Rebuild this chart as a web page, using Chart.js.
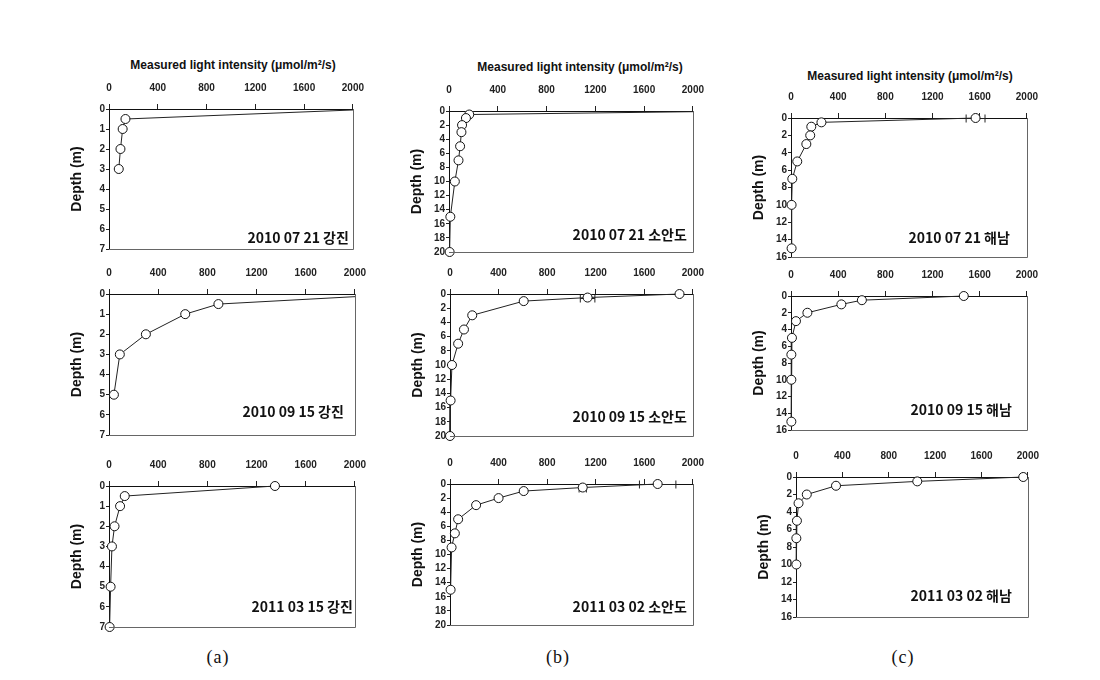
<!DOCTYPE html>
<html>
<head>
<meta charset="utf-8">
<script src="https://cdn.jsdelivr.net/npm/chart.js@4.4.0/dist/chart.umd.min.js"></script>
<style>
  body { margin: 0; background: #fff; width: 1100px; height: 680px; position: relative; overflow: hidden; }
  canvas { position: absolute; }
  .title { position: absolute; font: bold 12px "Liberation Sans", Arial, sans-serif; color: #111; transform: translate(-50%, -50%); white-space: nowrap; }
  .tag { position: absolute; font: 18px "Liberation Serif", serif; color: #111; transform: translate(-50%, -50%); letter-spacing: 1px; }
</style>
</head>
<body>
<div class="title" style="left:233px; top:65px">Measured light intensity (μmol/m²/s)</div>
<div class="title" style="left:580px; top:67px">Measured light intensity (μmol/m²/s)</div>
<div class="title" style="left:910px; top:76px">Measured light intensity (μmol/m²/s)</div>
<div class="tag" style="left:218px; top:657px">(a)</div>
<div class="tag" style="left:558px; top:657px">(b)</div>
<div class="tag" style="left:903px; top:657px">(c)</div>
<script>
// depth (m) vs measured light (umol/m2/s), one pair of arrays per panel
// surface values above 2000 run off the axis, as in the original
const depthA1 = [0, 0.5, 1, 2, 3];
const lightA1 = [2200, 135, 112, 94, 80];
const depthA2 = [0, 0.5, 1, 2, 3, 5];
const lightA2 = [2400, 890, 620, 300, 88, 40];
const depthA3 = [0, 0.5, 1, 2, 3, 5, 7];
const lightA3 = [1350, 128, 90, 45, 24, 13, 5];

const depthB1 = [0, 0.5, 1, 2, 3, 5, 7, 10, 15, 20];
const lightB1 = [2450, 166, 139, 107, 102, 91, 78, 48, 11, 5];
const depthB2 = [0, 0.5, 1, 3, 5, 7, 10, 15, 20];
const lightB2 = [1890, 1133, 607, 183, 115, 67, 16, 5, 0];
const errB2 = [0, 60, 0, 0, 0, 0, 0, 0, 0];
const depthB3 = [0, 0.5, 1, 2, 3, 5, 7, 9, 15];
const lightB3 = [1710, 1093, 607, 400, 215, 67, 40, 13, 5];
const errB3 = [150, 30, 0, 0, 0, 0, 0, 0, 0];

const depthC1 = [0, 0.5, 1, 2, 3, 5, 7, 10, 15];
const lightC1 = [1565, 258, 172, 163, 130, 53, 11, 5, 5];
const errC1 = [80, 0, 0, 0, 0, 0, 0, 0, 0];
const depthC2 = [0, 0.5, 1, 2, 3, 5, 7, 10, 15];
const lightC2 = [1465, 601, 427, 139, 42, 8, 3, 3, 3];
const depthC3 = [0, 0.5, 1, 2, 3, 5, 7, 10];
const lightC3 = [1960, 1046, 345, 93, 22, 8, 3, 3];

const labels = ['2010 07 21 강진', '2010 09 15 강진', '2011 03 15 강진',
                '2010 07 21 소안도', '2010 09 15 소안도', '2011 03 02 소안도',
                '2010 07 21 해남', '2010 09 15 해남', '2011 03 02 해남'];
const xMax = 2000, xStep = 400;

// plot-area boxes (px) and label offsets
const panels = [
  { L: 109, R: 358, T: 109, B: 249, d: depthA1, v: lightA1, e: null, ymax: 7, ystep: 1, dx: 4, dy: 11 },
  { L: 109, R: 360, T: 294, B: 435, d: depthA2, v: lightA2, e: null, ymax: 7, ystep: 1, dx: 11, dy: 23 },
  { L: 109, R: 360, T: 486, B: 627, d: depthA3, v: lightA3, e: null, ymax: 7, ystep: 1, dx: 2, dy: 20 },
  { L: 449, R: 698, T: 111, B: 252, d: depthB1, v: lightB1, e: null, ymax: 20, ystep: 2, dx: 6, dy: 17 },
  { L: 450, R: 698, T: 294, B: 436, d: depthB2, v: lightB2, e: errB2, ymax: 20, ystep: 2, dx: 6, dy: 19 },
  { L: 450, R: 698, T: 484, B: 625, d: depthB3, v: lightB3, e: errB3, ymax: 20, ystep: 2, dx: 6, dy: 18 },
  { L: 791, R: 1032, T: 118, B: 257, d: depthC1, v: lightC1, e: errC1, ymax: 16, ystep: 2, dx: 17, dy: 19 },
  { L: 791, R: 1032, T: 296, B: 430, d: depthC2, v: lightC2, e: null, ymax: 16, ystep: 2, dx: 15, dy: 20 },
  { L: 796, R: 1033, T: 477, B: 617, d: depthC3, v: lightC3, e: null, ymax: 16, ystep: 2, dx: 16, dy: 21 }
];

const AXIS_W = 52, AXIS_H = 30, PAD_R = 16, PAD_B = 8;

const extras = {
  id: 'extras',
  beforeDatasetsDraw(chart, args, opts) {
    if (!opts.err) return;
    const { ctx, scales: { x, y } } = chart;
    const ds = chart.data.datasets[0].data;
    ctx.save();
    ctx.strokeStyle = '#222';
    ctx.lineWidth = 1;
    ds.forEach((p, i) => {
      const e = opts.err[i];
      if (!e) return;
      const py = Math.round(y.getPixelForValue(p.y)) + 0.5;
      const x0 = x.getPixelForValue(p.x - e), x1 = x.getPixelForValue(p.x + e);
      ctx.beginPath();
      ctx.moveTo(x0, py); ctx.lineTo(x1, py);
      ctx.moveTo(x0, py - 4); ctx.lineTo(x0, py + 4);
      ctx.moveTo(x1, py - 4); ctx.lineTo(x1, py + 4);
      ctx.stroke();
    });
    ctx.restore();
  },
  afterDraw(chart, args, opts) {
    const { ctx, chartArea: a } = chart;
    ctx.save();
    ctx.strokeStyle = '#666';
    ctx.lineWidth = 1;
    ctx.beginPath();
    ctx.moveTo(Math.round(a.right) + 0.5, a.top);
    ctx.lineTo(Math.round(a.right) + 0.5, Math.round(a.bottom) + 0.5);
    ctx.lineTo(a.left, Math.round(a.bottom) + 0.5);
    ctx.stroke();
    ctx.font = 'bold 14px "Noto Sans CJK KR", sans-serif';
    ctx.fillStyle = '#111';
    ctx.textAlign = 'right';
    ctx.textBaseline = 'middle';
    ctx.fillText(opts.text, a.right - opts.dx, a.bottom - opts.dy);
    ctx.restore();
  }
};

const tickFont = { family: '"Liberation Sans", Arial, sans-serif', size: 10, weight: 'bold' };

panels.forEach((p, k) => {
  const cv = document.createElement('canvas');
  const w = p.R - p.L + AXIS_W + PAD_R;
  const h = p.B - p.T + AXIS_H + PAD_B;
  cv.width = w; cv.height = h;
  cv.style.left = (p.L - AXIS_W) + 'px';
  cv.style.top = (p.T - AXIS_H) + 'px';
  cv.style.width = w + 'px';
  cv.style.height = h + 'px';
  document.body.appendChild(cv);

  new Chart(cv, {
    type: 'scatter',
    data: {
      datasets: [{
        data: p.d.map((d, i) => ({ x: p.v[i], y: d })),
        showLine: true,
        borderColor: '#222',
        borderWidth: 1,
        pointRadius: 4.5,
        pointBackgroundColor: '#fff',
        pointBorderColor: '#111',
        pointBorderWidth: 1,
        clip: { left: 6, top: 6, right: 0, bottom: 6 }
      }]
    },
    options: {
      responsive: false,
      animation: false,
      devicePixelRatio: 1,
      layout: { padding: { left: 0, top: 0, right: PAD_R, bottom: PAD_B } },
      plugins: {
        legend: { display: false },
        tooltip: { enabled: false },
        extras: { text: labels[k], dx: p.dx, dy: p.dy, err: p.e }
      },
      scales: {
        x: {
          type: 'linear',
          position: 'top',
          min: 0,
          max: xMax,
          ticks: { stepSize: xStep, padding: 10, font: tickFont, color: '#222', callback: v => String(v) },
          grid: { drawOnChartArea: false, tickLength: 5, color: '#222' },
          border: { color: '#111', width: 1 },
          afterFit(s) { s.height = AXIS_H; }
        },
        y: {
          type: 'linear',
          reverse: true,
          min: 0,
          max: p.ymax,
          ticks: { stepSize: p.ystep, autoSkip: false, padding: 1, font: tickFont, color: '#222', callback: v => String(v) },
          grid: { drawOnChartArea: false, tickLength: 3, color: '#222' },
          border: { color: '#111', width: 1 },
          title: {
            display: true,
            text: 'Depth (m)',
            color: '#111',
            font: { family: '"Liberation Sans", Arial, sans-serif', size: 14, weight: 'bold' },
            padding: { top: 12, bottom: 0 }
          },
          afterFit(s) { s.width = AXIS_W; }
        }
      }
    },
    plugins: [extras]
  });
});
</script>
</body>
</html>
